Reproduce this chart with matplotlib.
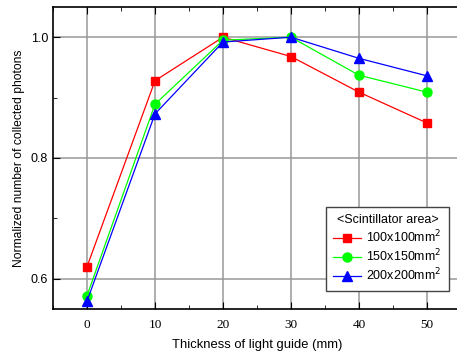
import numpy as np
import matplotlib.pyplot as plt
from matplotlib.ticker import MultipleLocator

plt.rcParams['font.family'] = ['Liberation Sans', 'DejaVu Sans']

# Data
thickness = [0, 10, 20, 30, 40, 50]
area_100 = [0.620, 0.928, 1.000, 0.968, 0.909, 0.858]
area_150 = [0.572, 0.889, 0.995, 1.000, 0.937, 0.909]
area_200 = [0.563, 0.873, 0.992, 1.000, 0.965, 0.936]
labels = ['100x100mm$^2$', '150x150mm$^2$', '200x200mm$^2$']

fig = plt.figure(figsize=(4.57, 3.56), dpi=100)
ax = fig.add_axes([53 / 457, 47 / 356, 408 / 457, 302 / 356])

ax.plot(thickness, area_100, '-s', color='#ff0000', lw=0.9, ms=6, label=labels[0])
ax.plot(thickness, area_150, '-o', color='#00ff00', lw=0.9, ms=6.5, label=labels[1])
ax.plot(thickness, area_200, '-^', color='#0000ff', lw=0.9, ms=7, label=labels[2])

ax.set_xlim(-5, 55)
ax.set_ylim(0.55, 1.05)
ax.xaxis.set_major_locator(MultipleLocator(10))
ax.xaxis.set_minor_locator(MultipleLocator(5))
ax.yaxis.set_major_locator(MultipleLocator(0.2))
ax.yaxis.set_minor_locator(MultipleLocator(0.1))
ax.yaxis.set_major_formatter(plt.FormatStrFormatter('%.1f'))
ax.grid(True, which='major', color='#999999', lw=1.1)
ax.set_axisbelow(True)
ax.tick_params(which='both', direction='in', top=True, labelsize=9)
ax.tick_params(which='major', length=5)
ax.tick_params(which='minor', length=3)
ax.tick_params(axis='x', pad=7)
for t in ax.get_xticklabels():
    t.set_family('Liberation Serif')
    t.set_fontsize(9.5)
for s in ax.spines.values():
    s.set_linewidth(1.2)

ax.set_xlabel('Thickness of light guide (mm)', fontsize=9.4, labelpad=6)
ax.set_ylabel('Normalized number of collected photons', fontsize=8.7, labelpad=4)

leg = ax.legend(title='<Scintillator area>', loc='lower right',
                bbox_to_anchor=((449 - 53) / 408, (356 - 291 - 47) / 302), borderaxespad=0,
                fancybox=False, edgecolor='#444444', fontsize=9, title_fontsize=9,
                handlelength=2.2, borderpad=0.6, labelspacing=0.2, handletextpad=0.4)
leg.get_frame().set_linewidth(1.0)
leg.get_frame().set_alpha(1)

fig.savefig('out.png', dpi=100)
